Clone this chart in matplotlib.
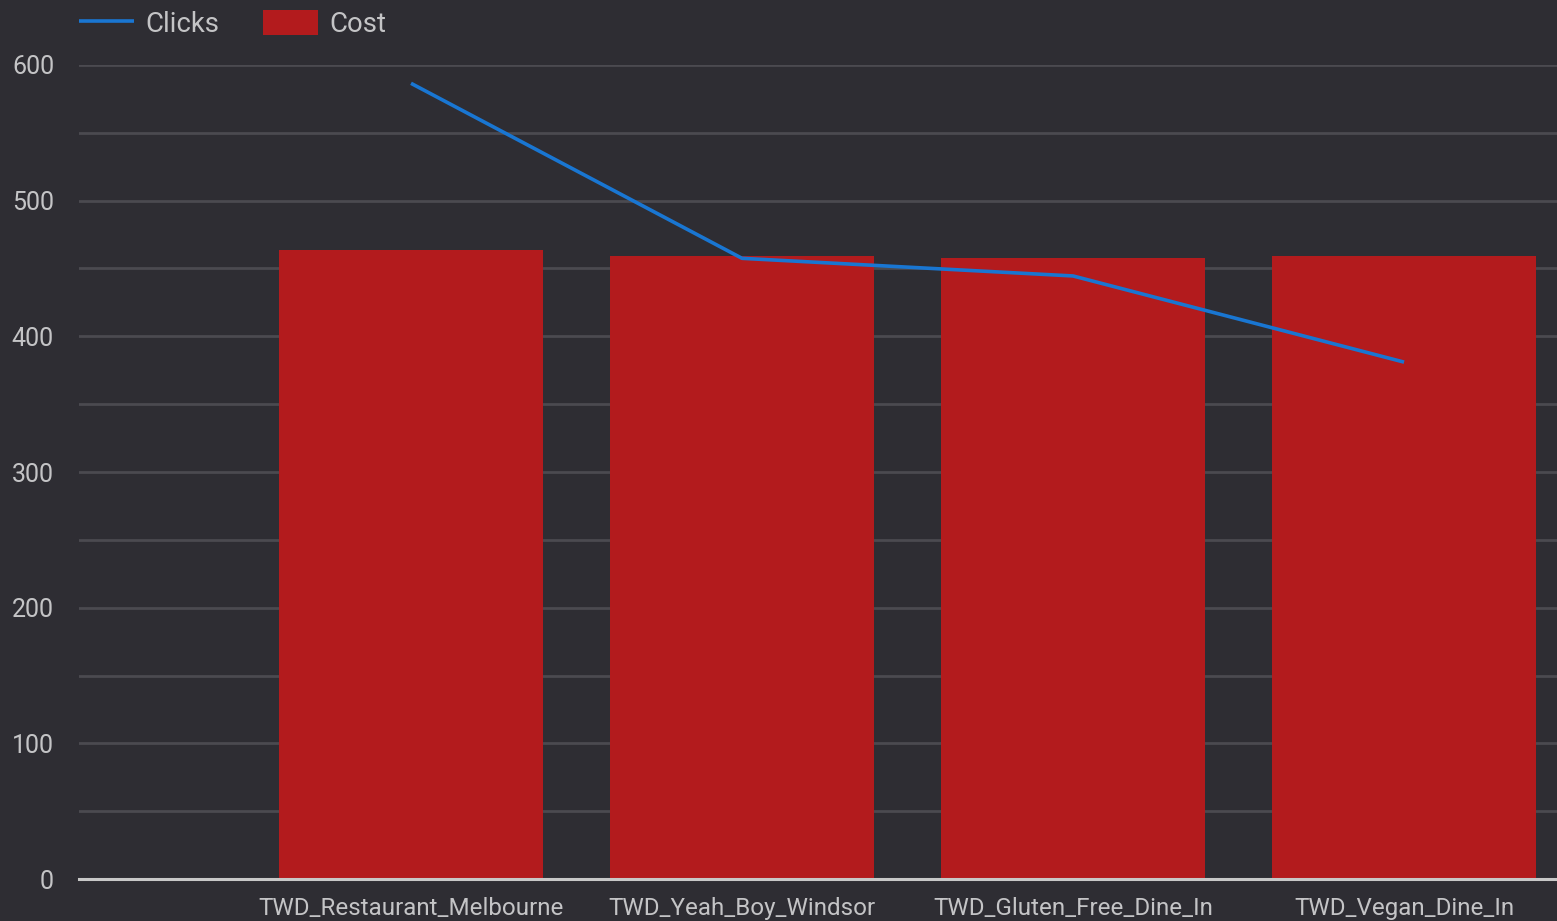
import matplotlib.pyplot as plt
import numpy as np

plt.rcParams["font.family"] = ["Roboto", "DejaVu Sans"]

CAMPAIGNS = [
    "TWD_Restaurant_Melbourne",
    "TWD_Yeah_Boy_Windsor",
    "TWD_Gluten_Free_Dine_In",
    "TWD_Vegan_Dine_In",
]
COST = [463.5, 459.0, 457.5, 459.0]
CLICKS = [586.5, 457.5, 444.5, 381.0]

BG = "#2e2d33"
GRID = "#4b4a50"
TEXT = "#c4c4c6"
BAR = "#b31b1d"
LINE = "#1976d2"


def main():
    fig = plt.figure(figsize=(15.57, 9.21), dpi=100, facecolor=BG)
    ax = fig.add_axes([79 / 1557, 42 / 921, 1478 / 1557, 814 / 921])
    ax.set_facecolor(BG)

    x = np.arange(len(CAMPAIGNS))
    ax.bar(x, COST, width=0.798, color=BAR, zorder=2, label="Cost")
    ax.plot(x, CLICKS, color=LINE, lw=2.6, zorder=3, label="Clicks",
            solid_capstyle="butt")

    ax.set_xlim(-1.003, 3.462)
    ax.set_ylim(0, 600)
    ax.set_yticks(np.arange(0, 601, 100))
    ax.set_yticks(np.arange(50, 600, 100), minor=True)
    ax.grid(True, which="both", axis="y", color=GRID, lw=2, zorder=0)
    ax.set_xticks(x)
    ax.set_xticklabels(CAMPAIGNS)

    for s in ["top", "right", "left"]:
        ax.spines[s].set_visible(False)
    ax.spines["bottom"].set_color("#c8c8c8")
    ax.spines["bottom"].set_linewidth(2.2)
    ax.spines["bottom"].set_zorder(4)

    ax.tick_params(axis="y", which="both", length=0, pad=18,
                   labelsize=18, labelcolor=TEXT)
    ax.tick_params(axis="x", length=0, pad=13, labelsize=17.4, labelcolor=TEXT)

    handles, labels = ax.get_legend_handles_labels()
    order = [labels.index("Clicks"), labels.index("Cost")]
    ax.legend(
        [handles[i] for i in order],
        [labels[i] for i in order],
        loc="center left",
        bbox_to_anchor=(54 / 1557, 1 - 24 / 921),
        bbox_transform=fig.transFigure,
        ncol=2,
        frameon=False,
        fontsize=19.8,
        labelcolor=TEXT,
        handlelength=2.0,
        handleheight=1.05,
        handletextpad=0.42,
        columnspacing=1.6,
    )

    fig.savefig("out.png", dpi=100, facecolor=BG)
    plt.close(fig)


if __name__ == "__main__":
    main()
